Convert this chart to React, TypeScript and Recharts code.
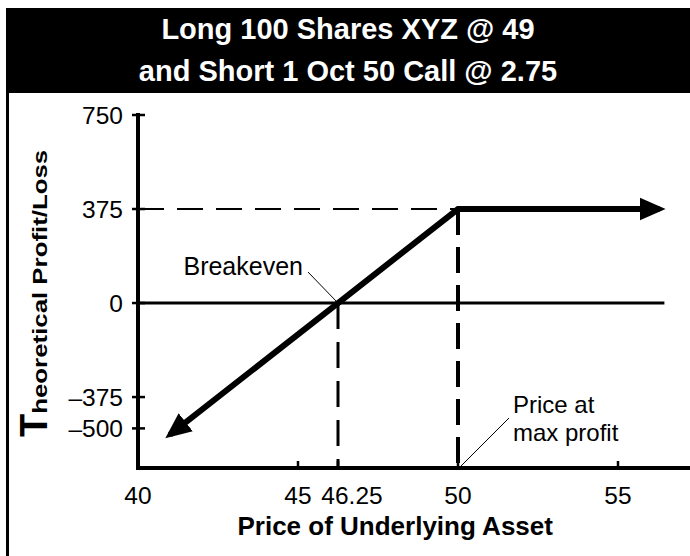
import React from 'react';
import { LineChart, Line, XAxis, YAxis, ReferenceLine, Label } from 'recharts';

const FONT = '"Liberation Sans", Arial, Helvetica, sans-serif';

// Long 100 XYZ @ 49 + short 1 Oct 50 call @ 2.75
const prices = [41, 46.25, 50, 56.3];
const profitLoss = [-525, 0, 375, 375];

const xTicks = [40, 45, 46.25, 50, 55];
const yTicks = [750, 375, 0, -375, -500];

const breakeven = 46.25;
const strike = 50;
const maxProfit = 375;
const zeroLineEnd = 56.45;

const xDomain = [40, 57.2];
const yDomain = [-658, 750];

const data = prices.map((price, i) => ({ price, pl: profitLoss[i] }));

const fmt = (v: number) => (v < 0 ? `\u2013${Math.abs(v)}` : `${v}`);

const YTick = (props: any) => {
  const { x, y, payload } = props;
  return (
    <g>
      <line x1={x + 9} x2={x + 22} y1={y} y2={y} stroke="#000" strokeWidth={2.5} />
      <text x={x} y={y} dy="0.355em" textAnchor="end" fontSize={24.5} fontFamily={FONT} fill="#000">
        {fmt(payload.value)}
      </text>
    </g>
  );
};

const XTick = (props: any) => {
  const { x, y, payload } = props;
  const axisY = y - 19;
  const shift = payload.value === breakeven ? 14 : 0;
  return (
    <g>
      <line x1={x} x2={x} y1={axisY} y2={axisY - 7} stroke="#000" strokeWidth={2.5} />
      <text x={x + shift} y={y} dy="0.71em" textAnchor="middle" fontSize={24.5} fontFamily={FONT} fill="#000">
        {payload.value}
      </text>
    </g>
  );
};

const YLabel = (props: any) => {
  const vb = props.viewBox || { x: 0, y: 115, width: 138, height: 353 };
  const bx = vb.x + 47;
  const by = vb.y + vb.height - 31;
  return (
    <text
      transform={`translate(${bx},${by}) rotate(-90)`}
      fontFamily={FONT}
      fontWeight="bold"
      fill="#000"
    >
      <tspan fontSize={38}>T</tspan>
      <tspan fontSize={20} textLength={264} lengthAdjust="spacingAndGlyphs">heoretical Profit/Loss</tspan>
    </text>
  );
};

const XLabel = (props: any) => {
  const vb = props.viewBox || { x: 138, y: 468, width: 550, height: 70 };
  return (
    <text
      x={vb.x + vb.width / 2 - 18}
      y={vb.y + 67}
      textAnchor="middle"
      fontSize={26}
      fontWeight="bold"
      fontFamily={FONT}
      fill="#000"
    >
      Price of Underlying Asset
    </text>
  );
};

const BreakevenNote = (props: any) => {
  const { x, y } = props.viewBox;
  return (
    <g>
      <line x1={x - 30} y1={y - 31} x2={x} y2={y} stroke="#000" strokeWidth={1} />
      <text x={x - 35} y={y - 28} textAnchor="end" fontSize={25} fontFamily={FONT} fill="#000">
        Breakeven
      </text>
    </g>
  );
};

const MaxProfitNote = (props: any) => {
  const { x, y, height } = props.viewBox;
  const b = y + height;
  return (
    <g fontFamily={FONT} fontSize={24} fill="#000">
      <line x1={x + 51} y1={b - 50} x2={x + 1} y2={b} stroke="#000" strokeWidth={1} />
      <text x={x + 55} y={b - 55}>Price at</text>
      <text x={x + 55} y={b - 27}>max profit</text>
    </g>
  );
};

export default function App() {
  return (
    <div style={{ position: 'absolute', left: 0, top: 0, width: 690, height: 556, background: '#fff', overflow: 'hidden' }}>
      <LineChart width={690} height={556} data={data} margin={{ top: 115, right: 1.6, bottom: 18, left: 0 }}>
        <defs>
          <marker
            id="arrowHead"
            markerUnits="userSpaceOnUse"
            markerWidth={26}
            markerHeight={24}
            refX={20}
            refY={12}
            orient="auto-start-reverse"
          >
            <path d="M0,0.5 L26,12 L0,23.5 Z" fill="#000" />
          </marker>
        </defs>
        <XAxis
          type="number"
          dataKey="price"
          domain={xDomain}
          ticks={xTicks}
          interval={0}
          tickSize={0}
          tickMargin={19}
          tickLine={false}
          tick={<XTick />}
          axisLine={{ stroke: '#000', strokeWidth: 4, strokeLinecap: 'square' }}
          height={70}
          allowDataOverflow
        >
          <Label content={<XLabel />} />
        </XAxis>
        <YAxis
          type="number"
          domain={yDomain}
          ticks={yTicks}
          interval={0}
          tickSize={0}
          tickMargin={15}
          tickLine={false}
          tick={<YTick />}
          axisLine={{ stroke: '#000', strokeWidth: 4, strokeLinecap: 'square' }}
          width={138}
          allowDataOverflow
        >
          <Label content={<YLabel />} />
        </YAxis>
        <ReferenceLine
          segment={[{ x: xDomain[0], y: 0 }, { x: zeroLineEnd, y: 0 }]}
          stroke="#000"
          strokeWidth={3}
        />
        <ReferenceLine
          segment={[{ x: xDomain[0], y: maxProfit }, { x: strike, y: maxProfit }]}
          stroke="#000"
          strokeWidth={2}
          strokeDasharray="26 13"
        />
        <ReferenceLine
          segment={[{ x: strike, y: maxProfit }, { x: strike, y: yDomain[0] }]}
          stroke="#000"
          strokeWidth={4}
          strokeDasharray="26 12"
          label={<MaxProfitNote />}
        />
        <ReferenceLine
          segment={[{ x: breakeven, y: 0 }, { x: breakeven, y: yDomain[0] }]}
          stroke="#000"
          strokeWidth={3}
          strokeDasharray="26 13"
          label={<BreakevenNote />}
        />
        <Line
          type="linear"
          dataKey="pl"
          stroke="#000"
          strokeWidth={6}
          dot={false}
          activeDot={false}
          isAnimationActive={false}
          markerStart="url(#arrowHead)"
          markerEnd="url(#arrowHead)"
        />
      </LineChart>
      <div
        style={{
          position: 'absolute',
          left: 6,
          top: 8,
          width: 684,
          height: 85,
          background: '#000',
          color: '#fff',
          fontFamily: FONT,
          fontWeight: 'bold',
          fontSize: 29,
          lineHeight: '42px',
          textAlign: 'center',
        }}
      >
        <div>Long 100 Shares XYZ @ 49</div>
        <div>and Short 1 Oct 50 Call @ 2.75</div>
      </div>
      <div style={{ position: 'absolute', left: 6, top: 93, width: 3, height: 463, background: '#000' }} />
    </div>
  );
}
